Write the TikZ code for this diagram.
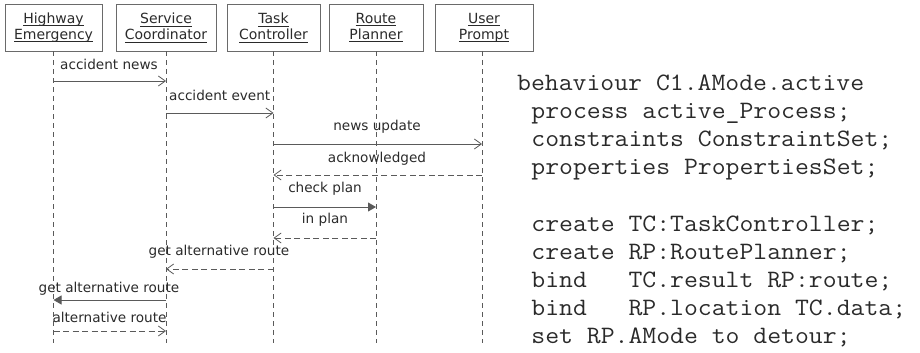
\documentclass[tikz,border=0pt]{standalone}
\usepackage{fontspec}
\usepackage{graphicx}
\setmainfont{DejaVu Sans}
\usetikzlibrary{arrows.meta}
\definecolor{lnc}{HTML}{5A5A5A}
\definecolor{boxc}{HTML}{6A6A6A}
\definecolor{txtc}{HTML}{2A2A2A}
\newcommand\ulin[1]{\setbox0\hbox{#1}\rlap{\rule[-2.6pt]{\wd0}{0.6pt}}\box0}
\newcommand\codeln[1]{\scalebox{1.078}[1]{\ttfamily\fontsize{25}{28}\selectfont #1}}
\newcommand\usc{\leavevmode\rlap{\rule[-2.5pt]{13pt}{1pt}}\phantom{\char"5F}}
\tikzset{
  obj/.style={draw=boxc, line width=0.8pt, minimum height=47pt, inner sep=0pt,
    align=center, text=txtc, font=\fontsize{14}{16}\selectfont},
  lifeline/.style={draw=lnc, line width=0.8pt, dash pattern=on 5pt off 4pt},
  msg/.style={draw=lnc, line width=0.8pt, -{Straight Barb[length=7pt,width=10pt]}},
  reply/.style={msg, dash pattern=on 6pt off 3.5pt},
  call/.style={draw=lnc, line width=0.8pt, -{Triangle[length=8pt,width=9pt]}},
  lbl/.style={inner sep=0pt, text=txtc, font=\fontsize{13.6}{16}\selectfont},
  code/.style={inner sep=0pt, anchor=base west, text=txtc}
}
\begin{document}
\begin{tikzpicture}[x=1pt,y=-1pt]
\useasboundingbox (0,0) rectangle (920,353);
% objects
\node[obj, minimum width=97pt] (he) at (53.5,27.5) {\ulin{Highway}\\\ulin{Emergency}};
\node[obj, minimum width=100pt] (sc) at (166,27.5) {\ulin{Service}\\\ulin{Coordinator}};
\node[obj, minimum width=93pt] (tc) at (273.5,27.5) {\ulin{Task}\\\ulin{Controller}};
\node[obj, minimum width=94pt] (rp) at (376,27.5) {\ulin{Route}\\\ulin{Planner}};
\node[obj, minimum width=98pt] (up) at (484,27.5) {\ulin{User}\\\ulin{Prompt}};
% lifelines
\foreach \o in {he,sc,tc,rp}{
  \coordinate (\o end) at (\o.south |- 0,343);
  \draw[lifeline] (\o.south) -- (\o end);
}
\coordinate (uptop) at (482,51);
\coordinate (upend) at (482,343);
\draw[lifeline] (uptop) -- (upend);
% messages
\draw[msg] (he |- 0,81) -- (sc |- 0,81);
\node[lbl, anchor=base west] (l1) at (60,69) {accident news};
\draw[msg] (sc |- 0,113) -- (tc |- 0,113);
\node[lbl, anchor=base west] (l2) at (169,100) {accident event};
\draw[msg] (tc |- 0,144) -- (uptop |- 0,144);
\node[lbl, anchor=base] (l3) at (377,130.5) {news update};
\draw[reply] (uptop |- 0,175) -- (tc |- 0,175);
\node[lbl, anchor=base] (l4) at (377,162) {acknowledged};
\draw[call] (tc |- 0,207) -- (rp |- 0,207);
\node[lbl, anchor=base] (l5) at (325,192) {check plan};
\draw[reply] (rp |- 0,238) -- (tc |- 0,238);
\node[lbl, anchor=base] (l6) at (325,223) {in plan};
\draw[reply] (tc |- 0,269) -- (sc |- 0,269);
\node[lbl, anchor=base] (l7) at (219,255) {get alternative route};
\draw[call] (sc |- 0,300) -- (he |- 0,300);
\node[lbl, anchor=base] (l8) at (109,292) {get alternative route};
\draw[reply] (he |- 0,331) -- (sc |- 0,331);
\node[lbl, anchor=base] (l9) at (109.5,322) {alternative route};
% code
\node[code] (c1) at (517,90) {\codeln{behaviour C1.AMode.active}};
\node[code] (c2) at (531.2,118.2) {\codeln{process active\char"5F Process;}};
\node[code] (c3) at (531.2,146.4) {\codeln{constraints ConstraintSet;}};
\node[code] (c4) at (531.2,174.6) {\codeln{properties PropertiesSet;}};
\node[code] (c5) at (531.2,231) {\codeln{create TC:TaskController;}};
\node[code] (c6) at (531.2,259.2) {\codeln{create RP:RoutePlanner;}};
\node[code] (c7) at (531.2,287.4) {\codeln{bind\ \ \ TC.result RP:route;}};
\node[code] (c8) at (531.2,315.6) {\codeln{bind\ \ \ RP.location TC.data;}};
\node[code] (c9) at (531.2,343.8) {\codeln{set RP.AMode to detour;}};
\end{tikzpicture}
\end{document}
